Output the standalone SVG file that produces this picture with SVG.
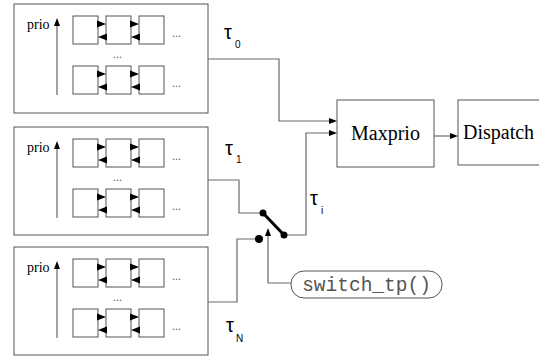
<svg xmlns="http://www.w3.org/2000/svg" width="539" height="358" viewBox="0 0 539 358">
<defs>
<style>
.panel{fill:#fff;stroke:#555;stroke-width:1}
.q{fill:#fff;stroke:#555;stroke-width:1}
.box{fill:#fff;stroke:#555;stroke-width:1}
.con{fill:none;stroke:#6a6a6a;stroke-width:1.2}
.ah{fill:#000}
.prio{font-family:"Liberation Serif",serif;font-size:14px;fill:#000}
.dots{font-family:"Liberation Serif",serif;font-size:12px;fill:#666}
.big{font-family:"Liberation Serif",serif;font-size:20px;fill:#000}
.tau{font-family:"Liberation Sans",sans-serif;font-size:20px;fill:#000}
.sub{font-family:"Liberation Sans",sans-serif;font-size:10px;fill:#000}
.mono{font-family:"Liberation Mono",monospace;font-size:19.5px;fill:#555}
</style>
<g id="row">
<rect class="q" x="73" y="0" width="25" height="28"/>
<rect class="q" x="106" y="0" width="25" height="28"/>
<rect class="q" x="139" y="0" width="25" height="28"/>
<polygon class="ah" points="97,4.5 106,8 97,11.5"/>
<polygon class="ah" points="98,21 107,17.5 107,24.5"/>
<polygon class="ah" points="130,4.5 139,8 130,11.5"/>
<polygon class="ah" points="131,21 140,17.5 140,24.5"/>
<text class="dots" x="172" y="21">...</text>
</g>
<g id="panelContent">
<text class="prio" x="27" y="25">prio</text>
<line x1="57" y1="20" x2="57" y2="91" stroke="#444" stroke-width="1"/>
<polygon class="ah" points="57,14 54,22 60,22"/>
<use href="#row" y="12"/>
<text class="dots" x="113" y="54">...</text>
<use href="#row" y="62"/>
</g>
</defs>

<g id="queue0">
<rect class="panel" x="14" y="4" width="194" height="109"/>
<use href="#panelContent" y="4"/>
</g>
<g id="queue1">
<rect class="panel" x="14" y="127" width="194" height="108"/>
<use href="#panelContent" y="127"/>
</g>
<g id="queueN">
<rect class="panel" x="14" y="247" width="194" height="108"/>
<use href="#panelContent" y="247"/>
</g>

<g id="maxprio">
<rect class="box" x="337" y="100" width="97" height="67"/>
<text class="big" x="385.5" y="140" text-anchor="middle">Maxprio</text>
</g>
<g id="dispatch">
<rect class="box" x="458" y="100" width="100" height="65"/>
<text class="big" x="463" y="139">Dispatch</text>
</g>
<g id="switch_tp">
<rect x="291" y="271" width="151" height="27" rx="13" ry="13" fill="#fff" stroke="#555" stroke-width="1"/>
<text class="mono" x="366.5" y="291" text-anchor="middle">switch_tp()</text>
</g>

<g id="labels">
<text class="tau" x="224" y="39">τ</text><text class="sub" x="235" y="48">0</text>
<text class="tau" x="225" y="155">τ</text><text class="sub" x="236" y="163">1</text>
<text class="tau" x="310" y="205">τ</text><text class="sub" x="321" y="214">i</text>
<text class="tau" x="226" y="332">τ</text><text class="sub" x="236" y="342">N</text>
</g>

<g id="connectors">
<polyline class="con" points="208,59 279,59 279,121 330,121"/>
<polygon class="ah" points="337,121 329,118 329,124"/>
<polyline class="con" points="284,235 306,235 306,133 330,133"/>
<polygon class="ah" points="337,133 329,130 329,136"/>
<line class="con" x1="434" y1="136" x2="451" y2="136"/>
<polygon class="ah" points="458,136 450,133 450,139"/>
<polyline class="con" points="208,180 239,180 239,213 263,213"/>
<polyline class="con" points="208,302 237,302 237,239 259,239"/>
<polyline class="con" points="291,283 268,283 268,236"/>
<polygon class="ah" points="268,228 265,236 271,236"/>
<line x1="263" y1="213" x2="284" y2="235" stroke="#000" stroke-width="3"/>
<circle cx="263" cy="213" r="3.5" fill="#000"/>
<circle cx="284" cy="235" r="3.5" fill="#000"/>
<circle cx="259" cy="239" r="4" fill="#000"/>
</g>
</svg>
